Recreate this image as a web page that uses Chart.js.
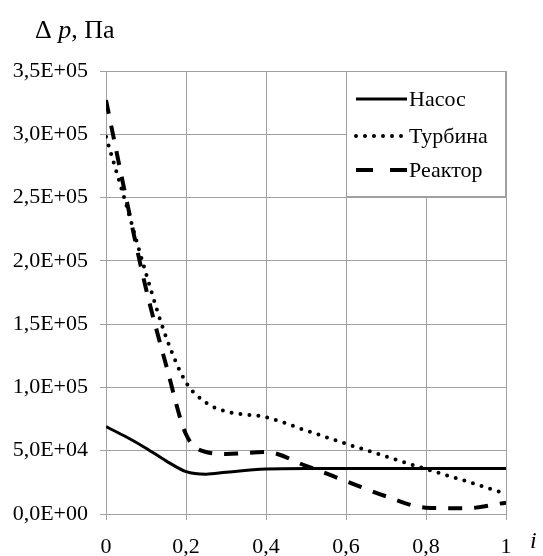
<!DOCTYPE html>
<html>
<head>
<meta charset="utf-8">
<script src="https://cdn.jsdelivr.net/npm/chart.js@4/dist/chart.umd.min.js"></script>
<style>
  html, body { margin: 0; padding: 0; background: #fff; overflow: hidden; }
  #wrap { width: 543px; height: 556px; }
</style>
</head>
<body>
<div id="wrap"><canvas id="chart"></canvas></div>
<script>
// values
var iValues = [0, 0.05, 0.1, 0.15, 0.2, 0.25, 0.3, 0.4, 0.5, 0.6, 0.7, 0.8, 0.9, 1];
var nasos   = [69000, 61000, 52000, 42000, 33500, 31500, 33000, 35500, 36000, 36000, 36000, 36000, 36000, 36000];
var turbina = [298000, 245000, 190000, 140000, 104000, 88000, 81000, 76500, 66000, 55500, 45500, 35500, 26000, 16000];
var reaktor = [327000, 250000, 178000, 118000, 63000, 49000, 47500, 49000, 38000, 26000, 14000, 5000, 4500, 9000];
var seriesNames = ["Насос", "Турбина", "Реактор"];
var xTicks = [0, 0.2, 0.4, 0.6, 0.8, 1];

var FONT = "'Liberation Serif', 'Times New Roman', serif";

function pts(vals) {
	return iValues.map(function (x, k) { return { x: x, y: vals[k] }; });
}

function sciLabel(v) {
	if (v === 0) return "0,0E+00";
	var e = Math.floor(Math.log10(v));
	var m = v / Math.pow(10, e);
	var es = (e < 10 ? "0" : "") + e;
	return m.toFixed(1).replace(".", ",") + "E+" + es;
}

// legend box inside the plot, plus axis captions
var decor = {
	id: 'decor',
	afterDraw: function (chart) {
		var ctx = chart.ctx;
		var xs = chart.scales.x, ys = chart.scales.y;
		ctx.save();

		// legend box
		var bx = xs.getPixelForValue(0.6), by = ys.getPixelForValue(350000);
		var bw = xs.getPixelForValue(1) - bx, bh = 126;
		ctx.fillStyle = '#fff';
		ctx.fillRect(bx, by, bw, bh);
		ctx.strokeStyle = '#a0a0a0';
		ctx.lineWidth = 1;
		ctx.strokeRect(bx + 0.5, by + 0.5, bw - 1, bh - 1);

		var rows = [28, 65, 99];
		chart.data.datasets.forEach(function (ds, k) {
			var yy = by + rows[k];
			ctx.beginPath();
			ctx.strokeStyle = '#000';
			ctx.lineWidth = ds.borderWidth;
			ctx.lineCap = ds.borderCapStyle || 'butt';
			ctx.setLineDash(ds.legendDash || []);
			ctx.moveTo(bx + 10, yy);
			ctx.lineTo(bx + 61, yy);
			ctx.stroke();
			ctx.setLineDash([]);
			ctx.fillStyle = '#000';
			ctx.font = "22px " + FONT;
			ctx.textBaseline = 'middle';
			ctx.textAlign = 'left';
			ctx.fillText(ds.label, bx + 63, yy + 1);
		});

		// y caption: Δ p, Па
		ctx.fillStyle = '#000';
		ctx.textBaseline = 'alphabetic';
		ctx.textAlign = 'left';
		var cx = 35, cy = 38;
		ctx.font = "26px " + FONT;
		ctx.fillText("Δ ", cx, cy);
		cx += ctx.measureText("Δ ").width;
		ctx.font = "italic 26px " + FONT;
		ctx.fillText("p", cx, cy);
		cx += ctx.measureText("p").width;
		ctx.font = "26px " + FONT;
		ctx.fillText(", Па", cx, cy);

		// x caption: i
		ctx.font = "italic 24px " + FONT;
		ctx.fillText("i", 530, 548);
		ctx.restore();
	}
};

new Chart(document.getElementById("chart"), {
	type: 'line',
	data: {
		datasets: [{
			label: seriesNames[0],
			data: pts(nasos),
			borderColor: '#000',
			borderWidth: 3,
			legendDash: []
		}, {
			label: seriesNames[1],
			data: pts(turbina),
			borderColor: '#000',
			borderWidth: 4,
			borderDash: [0, 9],
			borderCapStyle: 'round',
			legendDash: [0, 9]
		}, {
			label: seriesNames[2],
			data: pts(reaktor),
			borderColor: '#000',
			borderWidth: 4,
			borderDash: [14, 12],
			legendDash: [17, 17]
		}]
	},
	options: {
		responsive: true,
		maintainAspectRatio: false,
		animation: false,
		layout: { padding: { top: 71, right: 37, left: 0, bottom: 0 } },
		elements: {
			point: { radius: 0 },
			line: { cubicInterpolationMode: 'monotone', fill: false }
		},
		plugins: {
			legend: { display: false },
			title: { display: false },
			tooltip: { enabled: false }
		},
		scales: {
			x: {
				type: 'linear',
				min: 0,
				max: 1,
				afterBuildTicks: function (scale) {
					scale.ticks = xTicks.map(function (v) { return { value: v }; });
				},
				afterFit: function (scale) { scale.height = 42; },
				grid: { color: '#a0a0a0', lineWidth: 1, tickLength: 6 },
				border: { color: '#a0a0a0' },
				ticks: {
					color: '#000',
					padding: 14,
					maxRotation: 0,
					font: { family: FONT, size: 22 },
					callback: function (v) { return String(Math.round(v * 10) / 10).replace(".", ","); }
				}
			},
			y: {
				min: 0,
				max: 350000,
				afterFit: function (scale) { scale.width = 106; },
				grid: { color: '#a0a0a0', lineWidth: 1, tickLength: 6 },
				border: { color: '#a0a0a0' },
				ticks: {
					stepSize: 50000,
					color: '#000',
					padding: 12,
					font: { family: FONT, size: 22 },
					callback: function (v) { return sciLabel(v); }
				}
			}
		}
	},
	plugins: [decor]
});
</script>
</body>
</html>
